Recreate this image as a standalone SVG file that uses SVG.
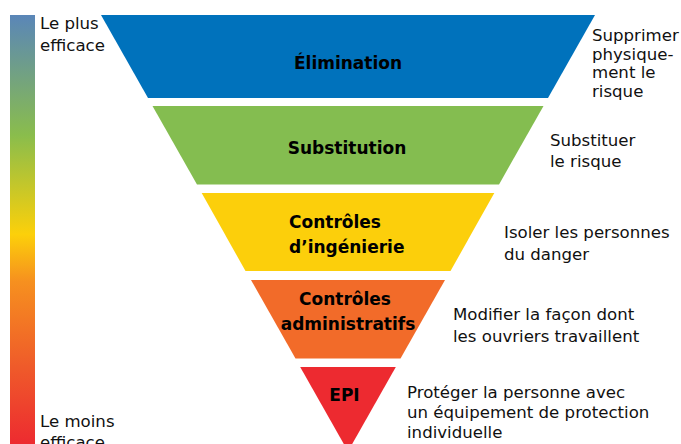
<svg xmlns="http://www.w3.org/2000/svg" width="681" height="444" viewBox="0 0 681 444">
<defs>
<linearGradient id="scale" x1="0" y1="0" x2="0" y2="1">
<stop offset="0" stop-color="#5a86b8"/>
<stop offset="0.28" stop-color="#8abd4c"/>
<stop offset="0.51" stop-color="#fcd00a"/>
<stop offset="0.62" stop-color="#f6901f"/>
<stop offset="0.82" stop-color="#ef5a2a"/>
<stop offset="1" stop-color="#ed2a30"/>
</linearGradient>
<style>
.lbl{font-family:"DejaVu Sans","Liberation Sans",sans-serif;font-weight:bold;font-size:17px;fill:#000}
.txt{font-family:"DejaVu Sans","Liberation Sans",sans-serif;font-size:16.6px;fill:#111}
</style>
</defs>
<rect width="681" height="444" fill="#fff"/>
<g id="scale-bar">
<rect x="10" y="15" width="25" height="430" fill="url(#scale)"/>
<text class="txt" x="40" y="29">Le plus</text>
<text class="txt" x="40" y="51">efficace</text>
<text class="txt" x="40" y="427">Le moins</text>
<text class="txt" x="40" y="448">efficace</text>
</g>
<g id="elimination">
<polygon points="101,15 595,15 548,98 148,98" fill="#0072bc"/>
<text class="lbl" x="348" y="69" text-anchor="middle">Élimination</text>
<text class="txt" x="592" y="41">Supprimer</text>
<text class="txt" x="592" y="59.5">physique-</text>
<text class="txt" x="592" y="78">ment le</text>
<text class="txt" x="592" y="96.5">risque</text>
</g>
<g id="substitution">
<polygon points="152.5,106 543.5,106 499,184.5 197,184.5" fill="#84bd50"/>
<text class="lbl" x="347" y="154" text-anchor="middle">Substitution</text>
<text class="txt" x="550" y="146">Substituer</text>
<text class="txt" x="550" y="167">le risque</text>
</g>
<g id="ingenierie">
<polygon points="201.7,193 494.3,193 450.5,271 245.5,271" fill="#fccf0b"/>
<text class="lbl" x="289" y="228">Contrôles</text>
<text class="lbl" x="289" y="253">d’ingénierie</text>
<text class="txt" x="504" y="238">Isoler les personnes</text>
<text class="txt" x="504" y="259.5">du danger</text>
</g>
<g id="administratifs">
<polygon points="251,280 445,280 400.5,358.5 295.5,358.5" fill="#f26b29"/>
<text class="lbl" x="345" y="305" text-anchor="middle">Contrôles</text>
<text class="lbl" x="348" y="330" text-anchor="middle">administratifs</text>
<text class="txt" x="453" y="320">Modifier la façon dont</text>
<text class="txt" x="453" y="341.5">les ouvriers travaillent</text>
</g>
<g id="epi">
<polygon points="300.2,367 395.8,367 348,451.4" fill="#ed2a30"/>
<text class="lbl" x="344.5" y="401" text-anchor="middle">EPI</text>
<text class="txt" x="407" y="398">Protéger la personne avec</text>
<text class="txt" x="407" y="418">un équipement de protection</text>
<text class="txt" x="407" y="438">individuelle</text>
</g>
</svg>
